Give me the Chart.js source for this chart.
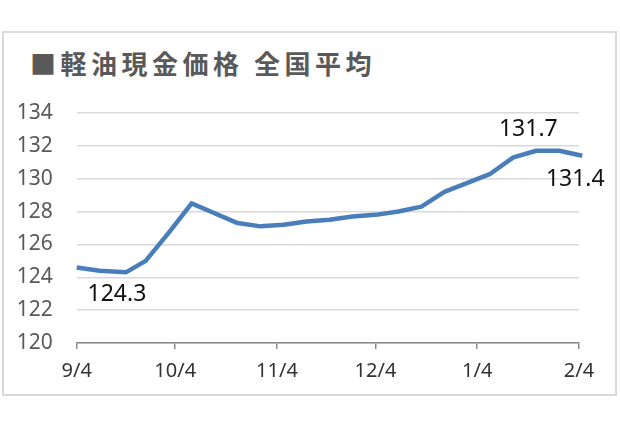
<!DOCTYPE html>
<html>
<head>
<meta charset="utf-8">
<script src="https://cdn.jsdelivr.net/npm/chart.js@4.4.1/dist/chart.umd.min.js"></script>
<style>
    body { margin: 0; background: #fff; }
    #frame {
        position: absolute; left: 2px; top: 31px; width: 611px; height: 361px;
        border: 2px solid #d9d9d9;
    }
    #title {
        position: absolute; left: 30px; top: 46px;
        font-family: "Noto Sans CJK JP", sans-serif; font-weight: bold;
        font-size: 26px; letter-spacing: 4.5px; color: #595959; line-height: 34px;
    }
    #wrap { position: absolute; left: 0; top: 0; width: 620px; height: 426px; }
</style>
</head>
<body>
<div id="frame"></div>
<div id="title">■軽油現金価格 全国平均</div>
<div id="wrap"><canvas id="myChart"></canvas></div>
<script>
// weekly survey dates and prices (yen/L)
const dates = ['2017-09-04', '2017-09-11', '2017-09-19', '2017-09-25', '2017-10-02', '2017-10-09',
    '2017-10-16', '2017-10-23', '2017-10-30', '2017-11-06', '2017-11-13', '2017-11-20',
    '2017-11-27', '2017-12-04', '2017-12-11', '2017-12-18', '2017-12-25', '2018-01-08',
    '2018-01-15', '2018-01-22', '2018-01-29', '2018-02-05'];
const prices = [124.6, 124.4, 124.3, 125.0, 126.7, 128.5,
    127.9, 127.3, 127.1, 127.2, 127.4, 127.5,
    127.7, 127.8, 128.0, 128.3, 129.2, 130.3,
    131.3, 131.7, 131.7, 131.4];
const tickDates = ['2017-09-04', '2017-10-04', '2017-11-04', '2017-12-04', '2018-01-04', '2018-02-04'];
const tickLabels = ['9/4', '10/4', '11/4', '12/4', '1/4', '2/4'];
const yTicks = [120, 122, 124, 126, 128, 130, 132, 134];
// which points get a value label
const labelIndexes = [2, 19, 21];

const labelOffsets = { 2: [-9, 22], 19: [-8, -21], 21: [-7, 24] };

function dayOf(s) {
    const p = s.split('-').map(Number);
    return (Date.UTC(p[0], p[1] - 1, p[2]) - Date.UTC(2017, 8, 4)) / 86400000;
}

const points = dates.map((d, i) => ({ x: dayOf(d), y: prices[i] }));
const tickDays = tickDates.map(dayOf);

const valueLabels = {
    id: 'valueLabels',
    afterDatasetsDraw(chart) {
        const ctx = chart.ctx;
        const meta = chart.getDatasetMeta(0);
        ctx.save();
        ctx.font = '23px "Noto Sans", sans-serif';
        ctx.fillStyle = '#111';
        ctx.textAlign = 'center';
        ctx.textBaseline = 'middle';
        labelIndexes.forEach(i => {
            const pt = meta.data[i];
            const off = labelOffsets[i];
            ctx.fillText(prices[i].toFixed(1), pt.x + off[0], pt.y + off[1]);
        });
        ctx.restore();
    }
};

const ctx = document.getElementById('myChart').getContext('2d');
new Chart(ctx, {
    type: 'line',
    data: {
        datasets: [{
            data: points,
            borderColor: '#4a7ebb',
            borderWidth: 4.5,
            pointRadius: 0,
            tension: 0,
            borderJoinStyle: 'round',
            clip: false
        }]
    },
    options: {
        responsive: true,
        maintainAspectRatio: false,
        animation: false,
        layout: { padding: { left: 16, right: 41, top: 113, bottom: 33 } },
        plugins: {
            legend: { display: false },
            tooltip: { enabled: false }
        },
        scales: {
            x: {
                type: 'linear',
                min: 0,
                max: tickDays[tickDays.length - 1],
                afterBuildTicks: axis => { axis.ticks = tickDays.map(v => ({ value: v })); },
                ticks: {
                    autoSkip: false,
                    maxRotation: 0,
                    padding: 10,
                    color: '#333',
                    font: { family: '"Noto Sans", sans-serif', size: 20 },
                    callback: (v, i) => tickLabels[i]
                },
                grid: { drawOnChartArea: false, drawTicks: true, tickLength: 6, color: '#898989', lineWidth: 1.5 },
                border: { display: true, color: '#898989', width: 1.5 }
            },
            y: {
                min: 120,
                max: 134,
                afterBuildTicks: axis => { axis.ticks = yTicks.map(v => ({ value: v })); },
                afterFit: axis => { axis.width = 60.7; },
                ticks: {
                    padding: 24,
                    color: '#595959',
                    font: { family: '"Noto Sans", sans-serif', size: 21 }
                },
                grid: { drawTicks: false, color: '#d9d9d9', lineWidth: 1.5 },
                border: { display: false }
            }
        }
    },
    plugins: [valueLabels]
});
</script>
</body>
</html>
